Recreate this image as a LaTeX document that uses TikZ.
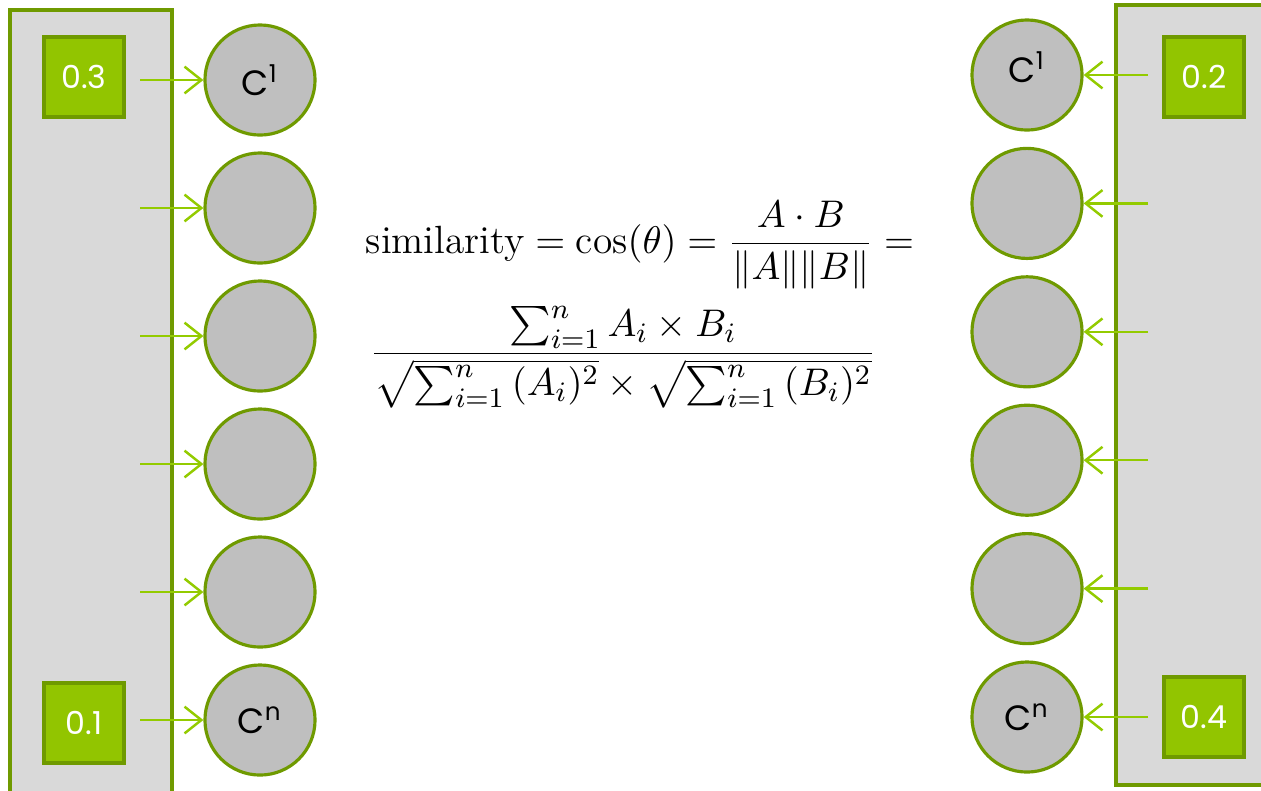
\documentclass[tikz,border=0pt]{standalone}
\usepackage{amsmath, amssymb}
\usepackage{fontspec}
\usepackage{tikz}
\usetikzlibrary{arrows.meta, positioning, calc}
\newfontfamily\labelfont{Poppins}
\definecolor{panelgray}{HTML}{D9D9D9}
\definecolor{nodegray}{HTML}{BFBFBF}
\definecolor{darkgreen}{HTML}{6F9A00}
\definecolor{boxgreen}{HTML}{92C500}
\definecolor{feedgreen}{HTML}{93CB00}
\tikzset{
    panel/.style={draw=darkgreen, fill=panelgray, line width=0.9pt},
    valbox/.style={draw=darkgreen, fill=boxgreen, line width=0.9pt, minimum size=0.8cm,
        inner sep=0pt, text=white, font=\labelfont\fontsize{9}{10}\selectfont},
    cnode/.style={circle, draw=darkgreen, fill=nodegray, line width=0.9pt, minimum size=1.1cm,
        inner sep=0pt},
    clabel/.style={font=\labelfont\fontsize{10}{11}\selectfont},
    feed/.style={draw=feedgreen, line width=0.7pt, -{Straight Barb[length=4.8pt, width=7.6pt]}}
}

\begin{document}
\begin{tikzpicture}[x=0.01cm, y=-0.01cm]
    \useasboundingbox (0,0) rectangle (1261,790);

    % 左侧面板
    \draw[panel] (10,10) rectangle (172,820);
    \node[valbox] (a1) at (84,77) {0.3};
    \node[valbox] (a6) at (84,723) {0.1};

    % 右侧面板
    \draw[panel] (1116,5) rectangle (1290,785);
    \node[valbox] (b1) at (1204,77) {0.2};
    \node[valbox] (b6) at (1204,717) {0.4};

    % 圆形节点
    \foreach \i in {1,...,6} {
        \node[cnode] (L\i) at (260, {80+128*(\i-1)}) {};
        \node[cnode] (R\i) at (1027, {75+128.4*(\i-1)}) {};
    }
    \node[clabel] (l1) at (L1) {C\textsuperscript{1}};
    \node[clabel] (l6) at (L6) {C\textsuperscript{n}};
    \node[clabel] (r1) at ($(R1)+(0,-8)$) {C\textsuperscript{1}};
    \node[clabel] (r6) at (R6) {C\textsuperscript{n}};

    % 箭头
    \foreach \i in {1,...,6} {
        \coordinate (ls\i) at ($(L\i)+(-120,0)$);
        \coordinate (rs\i) at ($(R\i)+(121,0)$);
        \draw[feed] (ls\i) -- (L\i.west);
        \draw[feed] (rs\i) -- (R\i.east);
    }

    % 公式
    \node[font=\fontsize{11.2}{13}\selectfont] (f1) at (640,245)
        {$\text{similarity} = \cos(\theta) = \dfrac{A\cdot B}{\|A\|\|B\|} =$};
    \node[font=\fontsize{11.2}{13}\selectfont] (f2) at (623,357)
        {$\dfrac{{\textstyle\sum_{i=1}^{n}}\, A_i \times B_i}{\sqrt{{\textstyle\sum_{i=1}^{n}}\, (A_i)^2} \times \sqrt{{\textstyle\sum_{i=1}^{n}}\, (B_i)^2}}$};
\end{tikzpicture}
\end{document}
